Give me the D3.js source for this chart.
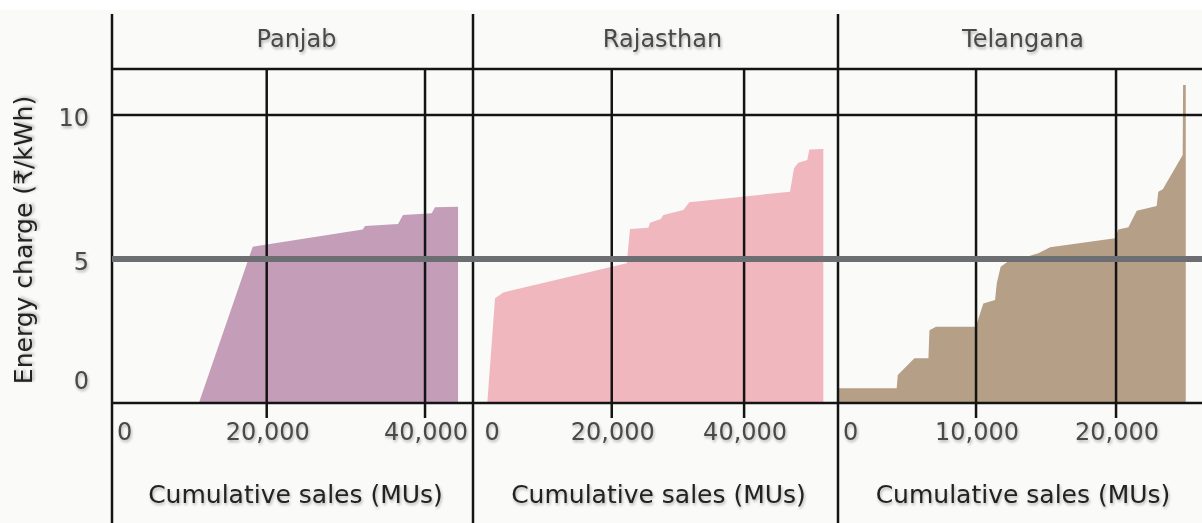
<!DOCTYPE html>
<html>
<head>
<meta charset="utf-8">
<script src="https://cdn.jsdelivr.net/npm/d3@7"></script>
<style>
  body { margin: 0; background: #fff; }
  text { font-family: "DejaVu Sans", Verdana, sans-serif; }
</style>
</head>
<body>
<svg id="chart" width="1202" height="523"></svg>
<script>
// states shown as facets
var states = ["Panjab", "Rajasthan", "Telangana"];

// cumulative sales (MUs) and energy charge (Rs/kWh)
var panjabSales = [11430, 18230, 32130, 32420, 36590, 37220, 40850, 41260, 44170];
var panjabCharge = [0, 5.43, 6.03, 6.15, 6.22, 6.53, 6.59, 6.80, 6.82];

var rajasthanSales = [1190, 2360, 3610, 22260, 22760, 25530, 25780, 27400, 27790, 30820, 31720, 46940, 47540, 48190, 49550, 49860, 51970];
var rajasthanCharge = [0, 3.64, 3.84, 4.85, 6.04, 6.09, 6.26, 6.39, 6.53, 6.70, 6.97, 7.34, 8.15, 8.34, 8.44, 8.80, 8.82];

var telanganaSales = [0, 4330, 4410, 5600, 6600, 6670, 7140, 10000, 10100, 10520, 11360, 11480, 11760, 12430, 13100, 13740, 14450, 15290, 19930, 20160, 20880, 21480, 22900, 23020, 23340, 24760, 24790, 24980];
var telanganaCharge = [0.51, 0.51, 0.97, 1.55, 1.55, 2.53, 2.65, 2.65, 2.82, 3.46, 3.58, 4.16, 4.73, 4.97, 5.06, 5.10, 5.20, 5.41, 5.72, 6.03, 6.10, 6.68, 6.84, 7.34, 7.42, 8.61, 11.04, 11.04];

// x domains per facet (free scales) and tick values
var panjabDomain = [455, 46060];
var rajasthanDomain = [-970, 54190];
var telanganaDomain = [140, 26140];
var panjabTicks = [0, 20000, 40000];
var rajasthanTicks = [0, 20000, 40000];
var telanganaTicks = [0, 10000, 20000];

var yDomain = [0, 11.6];
var yTicks = [0, 5, 10];
var refCharge = 5;

var fills = ["#c49db8", "#f0b7bf", "#b59f87"];

var facets = [
  {name: states[0], sales: panjabSales, charge: panjabCharge, domain: panjabDomain, ticks: panjabTicks},
  {name: states[1], sales: rajasthanSales, charge: rajasthanCharge, domain: rajasthanDomain, ticks: rajasthanTicks},
  {name: states[2], sales: telanganaSales, charge: telanganaCharge, domain: telanganaDomain, ticks: telanganaTicks}
];

var svg = d3.select("#chart");
var width = 1202, height = 523;
var plotLeft = 112, plotTop = 69, plotBottom = 403;
var panelEdges = [112, 473, 838, 1202];
var stripShift = [4, 7, 3];
var ink = "#141414";
var lineW = 2.5;

// soft shadow used on all the text
var filter = svg.append("defs").append("filter")
    .attr("id", "soft")
    .attr("x", "-10%").attr("y", "-40%")
    .attr("width", "120%").attr("height", "180%");
filter.append("feGaussianBlur").attr("in", "SourceAlpha").attr("stdDeviation", 1.6);
filter.append("feOffset").attr("dx", 1).attr("dy", 2).attr("result", "off");
filter.append("feComponentTransfer").append("feFuncA").attr("type", "linear").attr("slope", 0.3);
var merge = filter.append("feMerge");
merge.append("feMergeNode");
merge.append("feMergeNode").attr("in", "SourceGraphic");

// page background
svg.append("rect")
    .attr("x", 0).attr("y", 10)
    .attr("width", width).attr("height", height - 10)
    .attr("fill", "#fafaf8");

var y = d3.scaleLinear()
    .domain(yDomain)
    .range([plotBottom, plotTop]);

facets.forEach(function(f, i) {
  var x = d3.scaleLinear()
      .domain(f.domain)
      .range([panelEdges[i], panelEdges[i + 1]]);

  var pts = f.sales.map(function(s, j) { return {s: s, c: f.charge[j]}; });

  var clipId = "clip" + i;
  svg.append("clipPath").attr("id", clipId)
    .append("rect")
      .attr("x", panelEdges[i]).attr("y", plotTop)
      .attr("width", panelEdges[i + 1] - panelEdges[i])
      .attr("height", plotBottom - plotTop);

  var area = d3.area()
      .x(function(d) { return x(d.s); })
      .y0(y(0))
      .y1(function(d) { return y(d.c); });

  svg.append("path")
      .datum(pts)
      .attr("clip-path", "url(#" + clipId + ")")
      .attr("fill", fills[i])
      .attr("d", area);

  // vertical grid lines running down into tick marks
  svg.selectAll(".vgrid" + i)
      .data(f.ticks.filter(function(t) { return t > 0; }))
    .enter().append("line")
      .attr("x1", function(d) { return x(d); })
      .attr("x2", function(d) { return x(d); })
      .attr("y1", plotTop)
      .attr("y2", plotBottom + 15)
      .attr("stroke", ink)
      .attr("stroke-width", lineW);

  // x tick labels, the zero one is kept inside the panel
  svg.selectAll(".xlab" + i)
      .data(f.ticks)
    .enter().append("text")
      .attr("x", function(d) { return d === 0 ? Math.max(x(d), panelEdges[i]) + 5 : x(d) + 1; })
      .attr("y", 440)
      .attr("text-anchor", function(d) { return d === 0 ? "start" : "middle"; })
      .attr("font-size", 24)
      .attr("fill", "#4a4a4a")
      .attr("filter", "url(#soft)")
      .text(function(d) { return d3.format(",")(d); });

  var mid = (panelEdges[i] + panelEdges[i + 1]) / 2;

  svg.append("text")
      .attr("x", mid + stripShift[i])
      .attr("y", 47)
      .attr("text-anchor", "middle")
      .attr("font-size", 24)
      .attr("fill", "#4a4a4a")
      .attr("filter", "url(#soft)")
      .text(f.name);

  svg.append("text")
      .attr("x", mid + 3)
      .attr("y", 503)
      .attr("text-anchor", "middle")
      .attr("font-size", 25)
      .attr("fill", "#222")
      .attr("filter", "url(#soft)")
      .text("Cumulative sales (MUs)");
});

// horizontal grid lines and strip border
svg.selectAll(".hgrid")
    .data(yTicks)
  .enter().append("line")
    .attr("x1", plotLeft).attr("x2", width)
    .attr("y1", function(d) { return y(d); })
    .attr("y2", function(d) { return y(d); })
    .attr("stroke", ink)
    .attr("stroke-width", lineW);

svg.append("line")
    .attr("x1", plotLeft).attr("x2", width)
    .attr("y1", plotTop).attr("y2", plotTop)
    .attr("stroke", ink)
    .attr("stroke-width", lineW);

// panel borders
svg.selectAll(".border")
    .data(panelEdges.slice(0, 3))
  .enter().append("line")
    .attr("x1", function(d) { return d; })
    .attr("x2", function(d) { return d; })
    .attr("y1", 14).attr("y2", height)
    .attr("stroke", ink)
    .attr("stroke-width", lineW);

// reference line at 5
svg.append("line")
    .attr("x1", plotLeft).attr("x2", width)
    .attr("y1", y(refCharge)).attr("y2", y(refCharge))
    .attr("stroke", "#6d6e72")
    .attr("stroke-width", 6);

// y tick labels, the zero one is lifted above the axis
svg.selectAll(".ylab")
    .data(yTicks)
  .enter().append("text")
    .attr("x", 89)
    .attr("y", function(d) { return d === 0 ? y(d) - 14 : y(d) + 11; })
    .attr("text-anchor", "end")
    .attr("font-size", 24)
    .attr("fill", "#4a4a4a")
    .attr("filter", "url(#soft)")
    .text(function(d) { return d; });

svg.append("text")
    .attr("transform", "translate(32," + ((plotTop + plotBottom) / 2 + 4) + ") rotate(-90)")
    .attr("text-anchor", "middle")
    .attr("font-size", 25)
    .attr("fill", "#222")
    .attr("filter", "url(#soft)")
    .text("Energy charge (\u20B9/kWh)");
</script>
</body>
</html>
